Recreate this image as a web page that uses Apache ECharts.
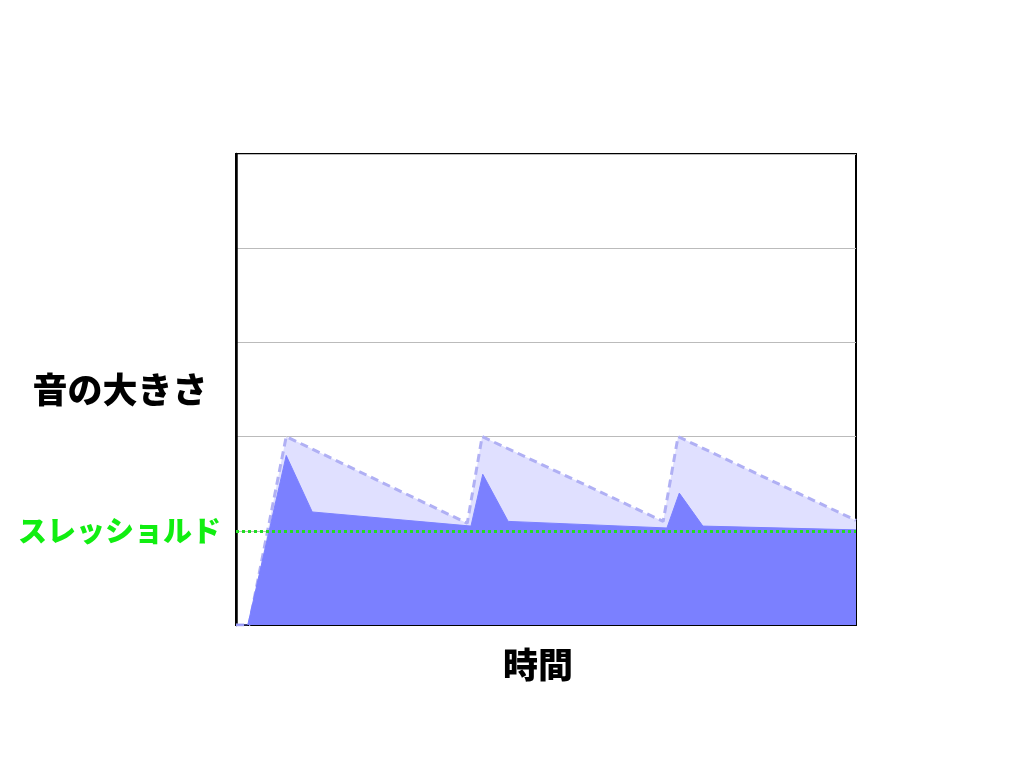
<!DOCTYPE html>
<html>
<head>
<meta charset="utf-8">
<script src="https://cdn.jsdelivr.net/npm/echarts@6/dist/echarts.min.js"></script>
<style>
  html, body { margin: 0; padding: 0; background: #fff; }
  #chart { width: 1024px; height: 768px; }
</style>
</head>
<body>
<div id="chart"></div>
<script>
// input level (before compression): [time, level]
var inputLevel = [
    [0, 0], [2.1, 0], [8.1, 2.0], [37.3, 1.08], [39.7, 2.0],
    [68.9, 1.10], [71.3, 2.0], [100, 1.11]
];
// output level (after compression)
var outputLevel = [
    [0, 0], [1.9, 0], [8.1, 1.80], [12.3, 1.20], [37.9, 1.05], [39.8, 1.60],
    [43.9, 1.10], [69.5, 1.03], [71.5, 1.40], [75.3, 1.05], [100, 1.01]
];
var threshold = 1;
var yTicks = [0, 1, 2, 3, 4, 5];

var fontFamily = '"Noto Sans CJK JP", sans-serif';

var chart = echarts.init(document.getElementById('chart'));
chart.setOption({
    animation: false,
    grid: {
        left: 236,
        right: 168,
        top: 154,
        bottom: 143,
        show: true,
        borderColor: '#000',
        borderWidth: 2
    },
    xAxis: {
        type: 'value',
        min: 0,
        max: 100,
        axisLine: { show: true, lineStyle: { color: '#000', width: 2 } },
        axisTick: { show: false },
        axisLabel: { show: false },
        splitLine: { show: false }
    },
    yAxis: {
        type: 'value',
        min: yTicks[0],
        max: yTicks[yTicks.length - 1],
        interval: 1,
        axisLine: { show: true, lineStyle: { color: '#000', width: 2.5 } },
        axisTick: { show: false },
        axisLabel: { show: false },
        splitLine: { show: true, lineStyle: { color: '#bbb', width: 1 } }
    },
    graphic: [{
        type: 'text',
        x: 120,
        y: 390,
        style: {
            text: '音の大きさ',
            font: '900 35px ' + fontFamily,
            fill: '#000',
            align: 'center',
            verticalAlign: 'middle'
        }
    }, {
        type: 'text',
        x: 538,
        y: 665,
        style: {
            text: '時間',
            font: '900 35px ' + fontFamily,
            fill: '#000',
            align: 'center',
            verticalAlign: 'middle'
        }
    }],
    series: [
        {
            type: 'line',
            data: inputLevel,
            symbol: 'none',
            z: 2,
            lineStyle: { color: '#b0b0f4', width: 3, type: [8, 5] },
            areaStyle: { color: '#e0e0ff', opacity: 1 }
        },
        {
            type: 'line',
            data: outputLevel,
            symbol: 'none',
            z: 3,
            lineStyle: { color: '#7b80ff', width: 1 },
            areaStyle: { color: '#7b80ff', opacity: 1 },
            markLine: {
                silent: true,
                symbol: 'none',
                data: [{ yAxis: threshold }],
                lineStyle: { color: '#22dd22', width: 3, type: 'dotted' },
                label: {
                    show: true,
                    position: 'start',
                    distance: 15,
                    formatter: 'スレッショルド',
                    fontFamily: fontFamily,
                    fontSize: 29,
                    fontWeight: 900,
                    color: '#11ee11'
                }
            }
        }
    ]
});
</script>
</body>
</html>
